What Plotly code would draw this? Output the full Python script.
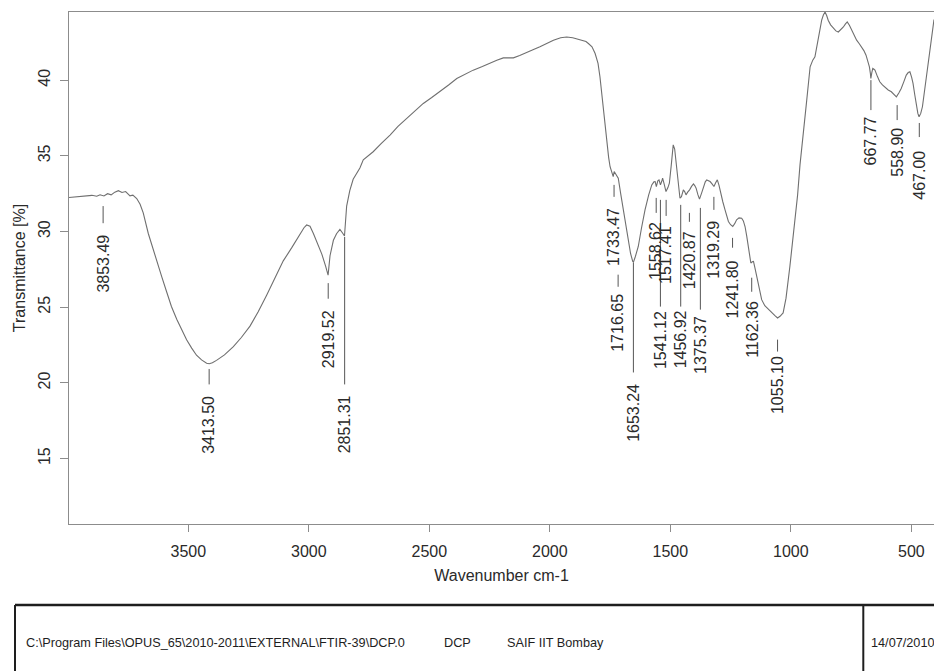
import plotly.graph_objects as go

# ---- FTIR spectrum (wavenumber in cm-1, transmittance in %) ----
wavenumber = [
    3995, 3960, 3930, 3900, 3880, 3866, 3850, 3835, 3820, 3805, 3790, 3775, 3760,
    3742, 3730, 3714, 3700, 3687, 3666, 3650, 3631, 3610, 3590, 3570, 3548, 3527,
    3507, 3486, 3466, 3445, 3424, 3413, 3400, 3383, 3350, 3313, 3280, 3244, 3210,
    3175, 3140, 3106, 3070, 3037, 3020, 3009, 2995, 2981, 2960, 2946, 2930, 2920,
    2912, 2898, 2885, 2871, 2860, 2852, 2843, 2830, 2816, 2788, 2774, 2733, 2700,
    2663, 2630, 2594, 2560, 2525, 2490, 2456, 2420, 2386, 2350, 2318, 2280, 2248,
    2220, 2193, 2170, 2151, 2125, 2096, 2070, 2041, 2010, 1985, 1955, 1930, 1905,
    1875, 1860, 1850, 1840, 1825, 1812, 1800, 1792, 1785, 1778, 1770, 1764, 1756,
    1750, 1743, 1737, 1733, 1728, 1722, 1716, 1706, 1695, 1684, 1674, 1665, 1656,
    1653, 1645, 1633, 1620, 1605, 1590, 1577, 1568, 1563, 1558, 1552, 1547, 1541,
    1536, 1532, 1525, 1518, 1510, 1504, 1496, 1488, 1482, 1477, 1472, 1467, 1460,
    1454, 1446, 1440, 1435, 1428, 1420, 1412, 1404, 1398, 1393, 1386, 1379, 1370,
    1362, 1355, 1349, 1342, 1335, 1327, 1319, 1312, 1305, 1298, 1291, 1282, 1273,
    1265, 1259, 1250, 1241, 1233, 1225, 1215, 1204, 1197, 1190, 1183, 1176, 1170,
    1166, 1160, 1155, 1149, 1142, 1132, 1121, 1108, 1093, 1080, 1066, 1055, 1045,
    1032, 1020, 1004, 995, 983, 972, 962, 948, 934, 920, 909, 900, 893, 886, 879,
    872, 865, 858, 851, 845, 835, 824, 813, 803, 792, 782, 774, 766, 757, 747, 737,
    727, 716, 706, 697, 688, 680, 674, 670, 668, 664, 660, 655, 651, 641, 631, 620,
    610, 596, 583, 572, 562, 552, 542, 531, 521, 513, 506, 499, 493, 486, 479, 473,
    468, 461, 454, 445, 437, 430, 423, 416, 409, 406,
]
transmittance = [
    32.25, 32.31, 32.36, 32.39, 32.33, 32.43, 32.35, 32.50, 32.42, 32.60, 32.70, 32.58, 32.64,
    32.36, 32.40, 32.18, 31.80, 31.23, 29.87, 29.00, 28.06, 27.00, 26.02, 25.05, 24.21, 23.48,
    22.85, 22.30, 21.83, 21.52, 21.30, 21.27, 21.33, 21.49, 21.85, 22.39, 23.00, 23.75, 24.70,
    25.79, 26.95, 28.06, 28.95, 29.87, 30.25, 30.43, 30.35, 29.87, 29.00, 28.51, 27.70, 27.12,
    28.40, 29.42, 29.85, 30.14, 29.90, 29.70, 31.68, 32.70, 33.45, 34.20, 34.73, 35.27, 35.80,
    36.37, 36.95, 37.48, 37.98, 38.46, 38.85, 39.23, 39.68, 40.11, 40.42, 40.66, 40.90, 41.14,
    41.32, 41.47, 41.49, 41.47, 41.62, 41.80, 42.00, 42.20, 42.45, 42.64, 42.80, 42.85, 42.80,
    42.68, 42.60, 42.55, 42.42, 42.20, 41.76, 41.10, 40.22, 39.20, 38.02, 36.80, 35.83, 34.90,
    34.28, 33.85, 33.63, 33.96, 33.85, 33.70, 33.52, 32.50, 31.43, 30.30, 29.24, 28.55, 28.02,
    27.98, 28.35, 29.01, 30.20, 31.43, 32.40, 33.08, 33.28, 33.30, 32.97, 33.35, 33.41, 33.08,
    33.30, 33.52, 33.10, 32.64, 32.90, 33.19, 34.40, 35.72, 35.45, 34.73, 33.80, 32.97, 32.20,
    32.30, 32.75, 32.62, 32.42, 32.60, 32.75, 32.98, 33.14, 33.02, 32.86, 32.45, 32.14, 32.55,
    32.97, 33.28, 33.41, 33.38, 33.30, 33.15, 32.97, 33.22, 33.41, 33.05, 32.53, 31.95, 31.43,
    31.00, 30.66, 30.45, 30.33, 30.52, 30.77, 30.90, 30.88, 30.70, 30.33, 29.70, 29.01, 28.35,
    27.92, 28.00, 28.02, 27.60, 27.03, 26.25, 25.50, 25.10, 24.84, 24.65, 24.44, 24.29, 24.40,
    24.62, 25.60, 27.69, 28.90, 30.55, 32.40, 34.40, 36.80, 38.68, 40.88, 41.32, 41.54, 42.20,
    42.85, 43.45, 43.96, 44.30, 44.50, 44.25, 43.96, 43.65, 43.41, 43.25, 43.18, 43.32, 43.51,
    43.70, 43.84, 43.62, 43.30, 42.95, 42.64, 42.40, 42.20, 41.95, 41.65, 41.25, 40.88, 40.45,
    40.11, 40.50, 40.77, 40.72, 40.66, 40.25, 39.89, 39.68, 39.52, 39.35, 39.23, 39.05, 38.90,
    39.15, 39.45, 39.90, 40.33, 40.50, 40.55, 40.20, 39.78, 39.05, 38.24, 37.80, 37.58, 37.80,
    38.24, 39.30, 40.44, 41.30, 42.20, 43.00, 43.74, 44.00,
]

# ---- peak picks: value, marker line top/bottom and label end (in % units) ----
peak_wn = [3853.49, 3413.50, 2919.52, 2851.31, 1733.47, 1716.65, 1653.24, 1558.62,
           1541.12, 1517.41, 1456.92, 1420.87, 1375.37, 1319.29, 1241.80, 1162.36,
           1055.10, 667.77, 558.90, 467.00]
peak_line_top = [31.68, 20.92, 26.59, 29.64, 33.08, 27.15, 27.94, 32.22,
                 32.09, 32.09, 31.76, 31.23, 31.56, 32.29, 29.58, 26.95,
                 22.86, 40.00, 38.35, 37.17]
peak_line_bottom = [30.55, 19.90, 25.56, 19.90, 32.29, 26.35, 20.69, 31.23,
                    25.04, 31.03, 25.04, 30.64, 24.84, 31.43, 28.93, 26.02,
                    22.07, 38.02, 37.36, 36.24]
peak_label_end = [29.87, 19.22, 24.88, 19.22, 31.63, 25.96, 20.03, 30.71,
                  24.84, 30.44, 24.84, 30.11, 24.51, 30.77, 28.13, 25.50,
                  21.81, 37.69, 36.90, 35.39]

x_ticks = [3500, 3000, 2500, 2000, 1500, 1000, 500]
y_ticks = [15, 20, 25, 30, 35, 40]

footer_path = r"C:\Program Files\OPUS_65\2010-2011\EXTERNAL\FTIR-39\DCP.0"
footer_sample = "DCP"
footer_lab = "SAIF IIT Bombay"
footer_date = "14/07/2010"

# ---- page geometry (pixels) ----
FIG_W, FIG_H = 934, 671
L, R, T, B = 69, 934, 12, 524
PW, PH = R - L, B - T


def paper_x(px):
    return (px - L) / PW


def paper_y(py):
    return (B - py) / PH


FONT = "Liberation Sans, Arial, Helvetica, sans-serif"
INK = "#2a2a2a"
FRAME = "#8c8c8c"

fig = go.Figure()

fig.add_trace(go.Scatter(
    x=wavenumber, y=transmittance, mode="lines",
    line=dict(color="#6f6f6f", width=1.1),
    hoverinfo="skip", showlegend=False,
))

# peak marker lines
lx, ly = [], []
for w, a, b in zip(peak_wn, peak_line_top, peak_line_bottom):
    lx += [w, w, None]
    ly += [a, b, None]
fig.add_trace(go.Scatter(
    x=lx, y=ly, mode="lines",
    line=dict(color="#555555", width=1),
    hoverinfo="skip", showlegend=False,
))

annotations = []
for w, e in zip(peak_wn, peak_label_end):
    annotations.append(dict(
        x=w, y=e, xref="x", yref="y", text=f"{w:.2f}",
        textangle=-90, xanchor="center", yanchor="top",
        showarrow=False, borderpad=0,
        font=dict(family=FONT, size=16, color=INK),
    ))

# footer texts
for txt, px in [(footer_path, 25), (footer_sample, 443), (footer_lab, 506), (footer_date, 870)]:
    annotations.append(dict(
        x=paper_x(px), y=paper_y(643), xref="paper", yref="paper",
        text=txt, xanchor="left", yanchor="middle", showarrow=False,
        borderpad=0, font=dict(family=FONT, size=12.7, color="#1e1e1e"),
    ))

# footer frame
shapes = [
    dict(type="line", xref="paper", yref="paper",
         x0=paper_x(15), x1=paper_x(940), y0=paper_y(605), y1=paper_y(605),
         line=dict(color="#1e1e1e", width=2.5)),
    dict(type="line", xref="paper", yref="paper",
         x0=paper_x(15), x1=paper_x(15), y0=paper_y(605), y1=paper_y(680),
         line=dict(color="#1e1e1e", width=2)),
    dict(type="line", xref="paper", yref="paper",
         x0=paper_x(863.3), x1=paper_x(863.3), y0=paper_y(605), y1=paper_y(680),
         line=dict(color="#1e1e1e", width=2)),
]

fig.update_layout(
    width=FIG_W, height=FIG_H,
    margin=dict(l=L, r=FIG_W - R, t=T, b=FIG_H - B, pad=0),
    paper_bgcolor="white", plot_bgcolor="white",
    font=dict(family=FONT, color=INK),
    annotations=annotations, shapes=shapes,
    showlegend=False,
)

fig.update_xaxes(
    range=[3995, 406], tickvals=x_ticks, ticktext=[str(v) for v in x_ticks],
    ticks="outside", ticklen=7, tickcolor=FRAME, tickwidth=1,
    showline=True, linecolor=FRAME, linewidth=1, mirror=True,
    showgrid=False, zeroline=False,
    tickfont=dict(family=FONT, size=16, color=INK),
    ticklabelstandoff=6,
    title=dict(text="Wavenumber cm-1", font=dict(family=FONT, size=16, color=INK), standoff=10),
)
fig.update_yaxes(
    range=[10.68, 44.50], tickvals=y_ticks, ticktext=[str(v) for v in y_ticks],
    tickangle=-90,
    ticks="outside", ticklen=8, tickcolor=FRAME, tickwidth=1,
    showline=True, linecolor=FRAME, linewidth=1, mirror=False,
    showgrid=False, zeroline=False,
    tickfont=dict(family=FONT, size=16, color=INK),
    ticklabelstandoff=4,
    title=dict(text="Transmittance [%]", font=dict(family=FONT, size=16, color=INK), standoff=5),
)

fig.write_html("out.html")
